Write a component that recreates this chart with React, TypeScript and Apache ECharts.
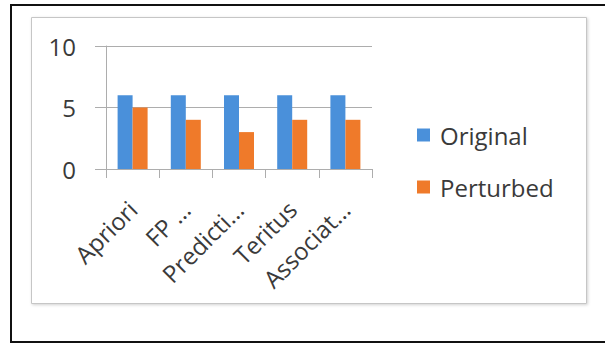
import React, { useEffect, useRef } from "react";
import * as echarts from "echarts";

// Algorithms compared and their scores
const categories = ["Apriori", "FP …", "Predicti…", "Teritus", "Associat…"];
const originalValues = [6, 6, 6, 6, 6];
const perturbedValues = [5, 4, 3, 4, 4];
const seriesNames = ["Original", "Perturbed"];
const yTicks = { min: 0, max: 10, interval: 5 };

const FONT = "'Open Sans', 'Noto Sans', sans-serif";
const BLUE = "#4A90DA";
const ORANGE = "#EF7A2A";
const GRID_GRAY = "#ADADAD";
const TEXT = "#3a3a3a";

export default function App() {
  const ref = useRef<HTMLDivElement>(null);

  useEffect(() => {
    if (!ref.current) return;
    const chart = echarts.init(ref.current, undefined, { renderer: "svg" });
    chart.setOption({
      animation: false,
      backgroundColor: "#ffffff",
      graphic: [
        {
          type: "rect",
          z: -10,
          silent: true,
          shape: { x: 11, y: 5, width: 596, height: 337 },
          style: { fill: "#ffffff", stroke: "#111111", lineWidth: 2 },
        },
        {
          type: "rect",
          z: -9,
          silent: true,
          shape: { x: 31.5, y: 17.5, width: 555, height: 286 },
          style: {
            fill: "#ffffff",
            stroke: "#c6c6c6",
            lineWidth: 1,
            shadowColor: "rgba(0,0,0,0.18)",
            shadowBlur: 3,
            shadowOffsetX: 1,
            shadowOffsetY: 1,
          },
        },
      ],
      grid: { left: 106, right: 233, top: 46, bottom: 174 },
      legend: {
        orient: "vertical",
        left: 417,
        top: 122,
        padding: 0,
        itemWidth: 13,
        itemHeight: 13,
        itemGap: 26,
        icon: "rect",
        data: seriesNames,
        textStyle: {
          fontFamily: FONT,
          fontSize: 24,
          lineHeight: 26,
          color: TEXT,
          padding: [0, 0, 0, 5],
        },
      },
      xAxis: {
        type: "category",
        data: categories,
        axisLine: { show: true, lineStyle: { color: GRID_GRAY, width: 1 } },
        axisTick: { show: true, length: 9, lineStyle: { color: GRID_GRAY } },
        axisLabel: {
          rotate: 45,
          interval: 0,
          margin: 36,
          fontFamily: FONT,
          fontSize: 24,
          color: TEXT,
        },
      },
      yAxis: {
        type: "value",
        min: yTicks.min,
        max: yTicks.max,
        interval: yTicks.interval,
        axisLine: { show: true, lineStyle: { color: GRID_GRAY, width: 1 } },
        axisTick: { show: true, length: 11, lineStyle: { color: GRID_GRAY } },
        splitLine: { show: true, lineStyle: { color: GRID_GRAY, width: 1 } },
        axisLabel: {
          margin: 30,
          fontFamily: FONT,
          fontSize: 24,
          color: TEXT,
        },
      },
      series: [
        {
          name: seriesNames[0],
          type: "bar",
          data: originalValues,
          barWidth: 15,
          barGap: "0%",
          itemStyle: { color: BLUE },
        },
        {
          name: seriesNames[1],
          type: "bar",
          data: perturbedValues,
          barWidth: 15,
          barGap: "0%",
          itemStyle: { color: ORANGE },
        },
      ],
    });
    return () => chart.dispose();
  }, []);

  return (
    <div
      ref={ref}
      style={{ position: "fixed", left: 0, top: 0, width: 605, height: 343 }}
    />
  );
}
